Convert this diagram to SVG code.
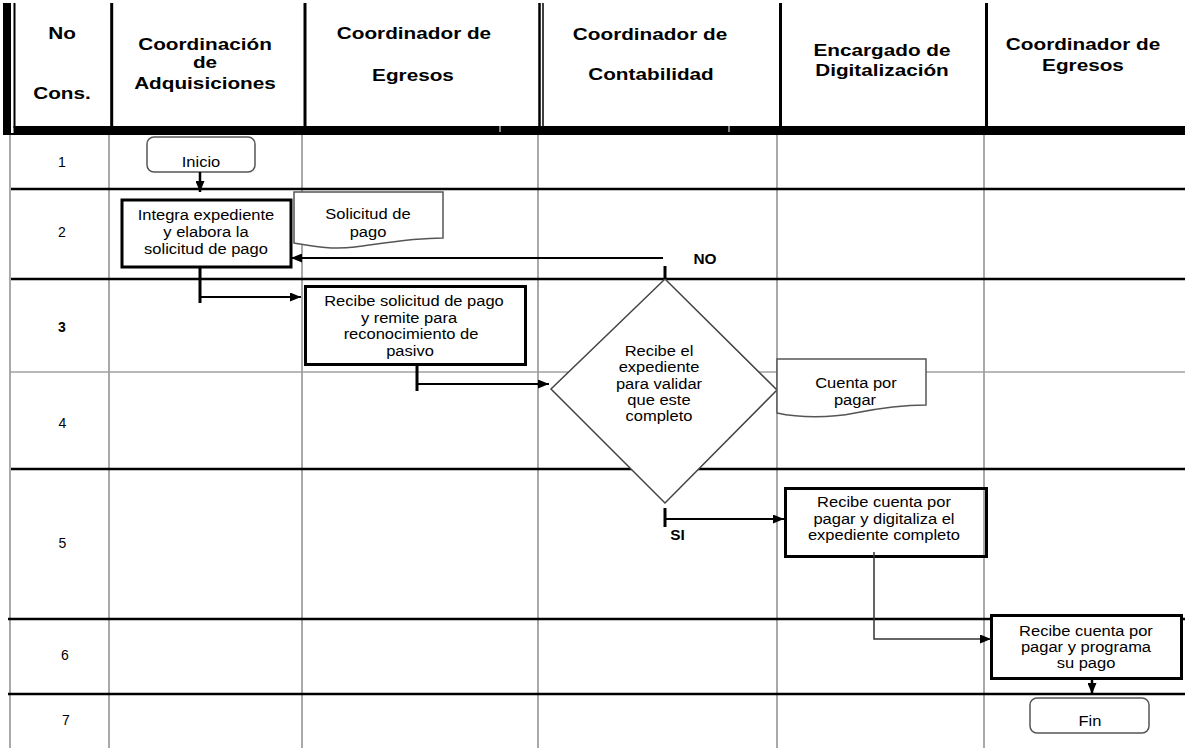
<svg xmlns="http://www.w3.org/2000/svg" width="1185" height="748" viewBox="0 0 1185 748">
<style>
text { font-family: "Liberation Sans", Arial, sans-serif; fill: #000; text-anchor: middle; transform-box: fill-box; transform-origin: center; }
.hd { font-size: 17px; font-weight: bold; transform: scaleX(1.22); }
.bd { font-size: 15px; transform: scaleX(1.1); }
.num { font-size: 14px; }
.lbl { font-size: 14px; font-weight: bold; transform: scaleX(1.1); }
.grid { stroke: #8c8c8c; stroke-width: 1.5; fill: none; }
.row { stroke: #000; stroke-width: 2.5; fill: none; }
.hline { stroke: #000; stroke-width: 3; }
.box { fill: #fff; stroke: #000; stroke-width: 3; }
.term { fill: #fff; stroke: #555; stroke-width: 1.5; }
.doc { fill: #fff; stroke: #555; stroke-width: 1.5; }
.dec { fill: #fff; stroke: #444; stroke-width: 1.5; }
.c { stroke: #000; stroke-width: 2; fill: none; }
.ct { stroke: #000; stroke-width: 3; fill: none; }
</style>
<defs>
<marker id="arr" markerUnits="userSpaceOnUse" markerWidth="11" markerHeight="9" refX="11" refY="4.5" orient="auto">
<path d="M0,0 L11,4.5 L0,9 Z" fill="#000"/>
</marker>
</defs>
<rect x="0" y="0" width="1185" height="748" fill="#fff"/>

<g id="table">
<line class="grid" x1="10" y1="135" x2="10" y2="748"/>
<line class="grid" x1="109" y1="135" x2="109" y2="748"/>
<line class="grid" x1="302" y1="135" x2="302" y2="748"/>
<line class="grid" x1="538" y1="135" x2="538" y2="748"/>
<line class="grid" x1="777" y1="135" x2="777" y2="748"/>
<line class="grid" x1="984" y1="135" x2="984" y2="748"/>
<line class="row" x1="11" y1="189" x2="1185" y2="189"/>
<line class="row" x1="11" y1="279" x2="1185" y2="279"/>
<line x1="10" y1="372" x2="1185" y2="372" stroke="#a0a0a0" stroke-width="1.5"/>
<line class="row" x1="11" y1="469" x2="1185" y2="469"/>
<line class="row" x1="8" y1="619" x2="1185" y2="619"/>
<line class="row" x1="8" y1="694" x2="1185" y2="694"/>
<rect x="3" y="3" width="8" height="132" fill="#000"/>
<rect x="13.5" y="3" width="2" height="125" fill="#000"/>
<rect x="13.5" y="126" width="1171.5" height="9" fill="#000"/>
<rect x="11" y="133" width="3" height="2" fill="#000"/>
<line class="hline" x1="111.7" y1="3" x2="111.7" y2="126"/>
<line class="hline" x1="305" y1="3" x2="305" y2="126"/>
<line x1="539.5" y1="3" x2="539.5" y2="126" stroke="#000" stroke-width="2.5"/>
<line x1="543" y1="3" x2="543" y2="126" stroke="#000" stroke-width="1.5"/>
<line class="hline" x1="780.5" y1="3" x2="780.5" y2="126"/>
<line class="hline" x1="986.5" y1="3" x2="986.5" y2="126"/>
<line x1="500" y1="126" x2="500" y2="132" stroke="#fff" stroke-width="1"/>
<line x1="729" y1="126" x2="729" y2="132" stroke="#fff" stroke-width="1"/>
<text class="hd" x="62" y="39">No</text>
<text class="hd" x="62" y="99">Cons.</text>
<text class="hd" x="205" y="50">Coordinación</text>
<text class="hd" x="205" y="68">de</text>
<text class="hd" x="205" y="89">Adquisiciones</text>
<text class="hd" x="414" y="39">Coordinador de</text>
<text class="hd" x="413" y="81">Egresos</text>
<text class="hd" x="650" y="40">Coordinador de</text>
<text class="hd" x="651" y="80.5">Contabilidad</text>
<text class="hd" x="882" y="56.5">Encargado de</text>
<text class="hd" x="882" y="76.5">Digitalización</text>
<text class="hd" x="1083" y="50">Coordinador de</text>
<text class="hd" x="1083" y="71">Egresos</text>
<text class="num" x="62" y="167">1</text>
<text class="num" x="62" y="237">2</text>
<text class="num" x="62" y="332" font-weight="bold">3</text>
<text class="num" x="62.5" y="428">4</text>
<text class="num" x="62.5" y="548">5</text>
<text class="num" x="65" y="660">6</text>
<text class="num" x="66" y="725">7</text>
</g>

<g id="inicio">
<rect class="term" x="147" y="137" width="108" height="35" rx="7"/>
<text class="bd" x="201" y="167">Inicio</text>
</g>

<g id="integra">
<rect class="box" x="122" y="200" width="169" height="67"/>
<text class="bd" x="206" y="220">Integra expediente</text>
<text class="bd" x="206" y="237">y elabora la</text>
<text class="bd" x="206" y="254">solicitud de pago</text>
</g>

<g id="solicitud">
<path class="doc" d="M294,192 H443 V238 C412,238 385,243 355,247 C330,250 312,246 294,243 Z"/>
<text class="bd" x="368" y="219">Solicitud de</text>
<text class="bd" x="368" y="237">pago</text>
</g>

<g id="recibe-solicitud">
<rect class="box" x="305.5" y="286.5" width="220" height="78"/>
<text class="bd" x="414" y="306">Recibe solicitud de pago</text>
<text class="bd" x="409" y="323">y remite para</text>
<text class="bd" x="411" y="339.5">reconocimiento de</text>
<text class="bd" x="410" y="356">pasivo</text>
</g>

<g id="valida">
<polygon class="dec" points="665,279 777,390 665,503 551,389"/>
<text class="bd" x="659" y="356.5">Recibe el</text>
<text class="bd" x="659" y="372.5">expediente</text>
<text class="bd" x="659" y="389">para validar</text>
<text class="bd" x="659" y="405">que este</text>
<text class="bd" x="659" y="421.5">completo</text>
</g>

<g id="cuenta-doc">
<path class="doc" d="M777,359 H926 V405 C905,405 880,408 855,413 C830,418 800,418 777,413 Z"/>
<text class="bd" x="856" y="388.5">Cuenta por</text>
<text class="bd" x="855" y="405">pagar</text>
</g>

<g id="digitaliza">
<rect x="785.5" y="488.5" width="201" height="68" fill="none" stroke="#000" stroke-width="3"/>
<text class="bd" x="884" y="507.5">Recibe cuenta por</text>
<text class="bd" x="884" y="524">pagar y digitaliza el</text>
<text class="bd" x="884" y="540.5">expediente completo</text>
</g>

<g id="programa">
<rect class="box" x="991.5" y="615.5" width="190" height="63"/>
<text class="bd" x="1086" y="636">Recibe cuenta por</text>
<text class="bd" x="1086" y="652">pagar y programa</text>
<text class="bd" x="1086" y="668.5">su pago</text>
</g>

<g id="fin">
<rect class="term" x="1030" y="698" width="119" height="35" rx="7"/>
<text class="bd" x="1090" y="726">Fin</text>
</g>

<g id="connectors">
<line x1="200" y1="172" x2="200" y2="192" stroke="#000" stroke-width="2.5" marker-end="url(#arr)"/>
<line class="ct" x1="200" y1="268" x2="200" y2="303"/>
<line class="c" x1="200" y1="297" x2="301" y2="297" marker-end="url(#arr)"/>
<line class="ct" x1="665" y1="266" x2="665" y2="279"/>
<line class="c" x1="663" y1="258" x2="291" y2="258" marker-end="url(#arr)"/>
<text class="lbl" x="705" y="264">NO</text>
<line class="ct" x1="417" y1="366" x2="417" y2="391"/>
<line class="c" x1="417" y1="384" x2="549" y2="384" marker-end="url(#arr)"/>
<line class="ct" x1="665" y1="508" x2="665" y2="527"/>
<line class="c" x1="665" y1="519" x2="784" y2="519" marker-end="url(#arr)"/>
<text class="lbl" x="677.5" y="540">SI</text>
<path d="M874,552 V639 H991" fill="none" stroke="#333" stroke-width="1.5" marker-end="url(#arr)"/>
<line x1="1092" y1="680" x2="1092" y2="694" stroke="#000" stroke-width="2.5" marker-end="url(#arr)"/>
</g>
</svg>
